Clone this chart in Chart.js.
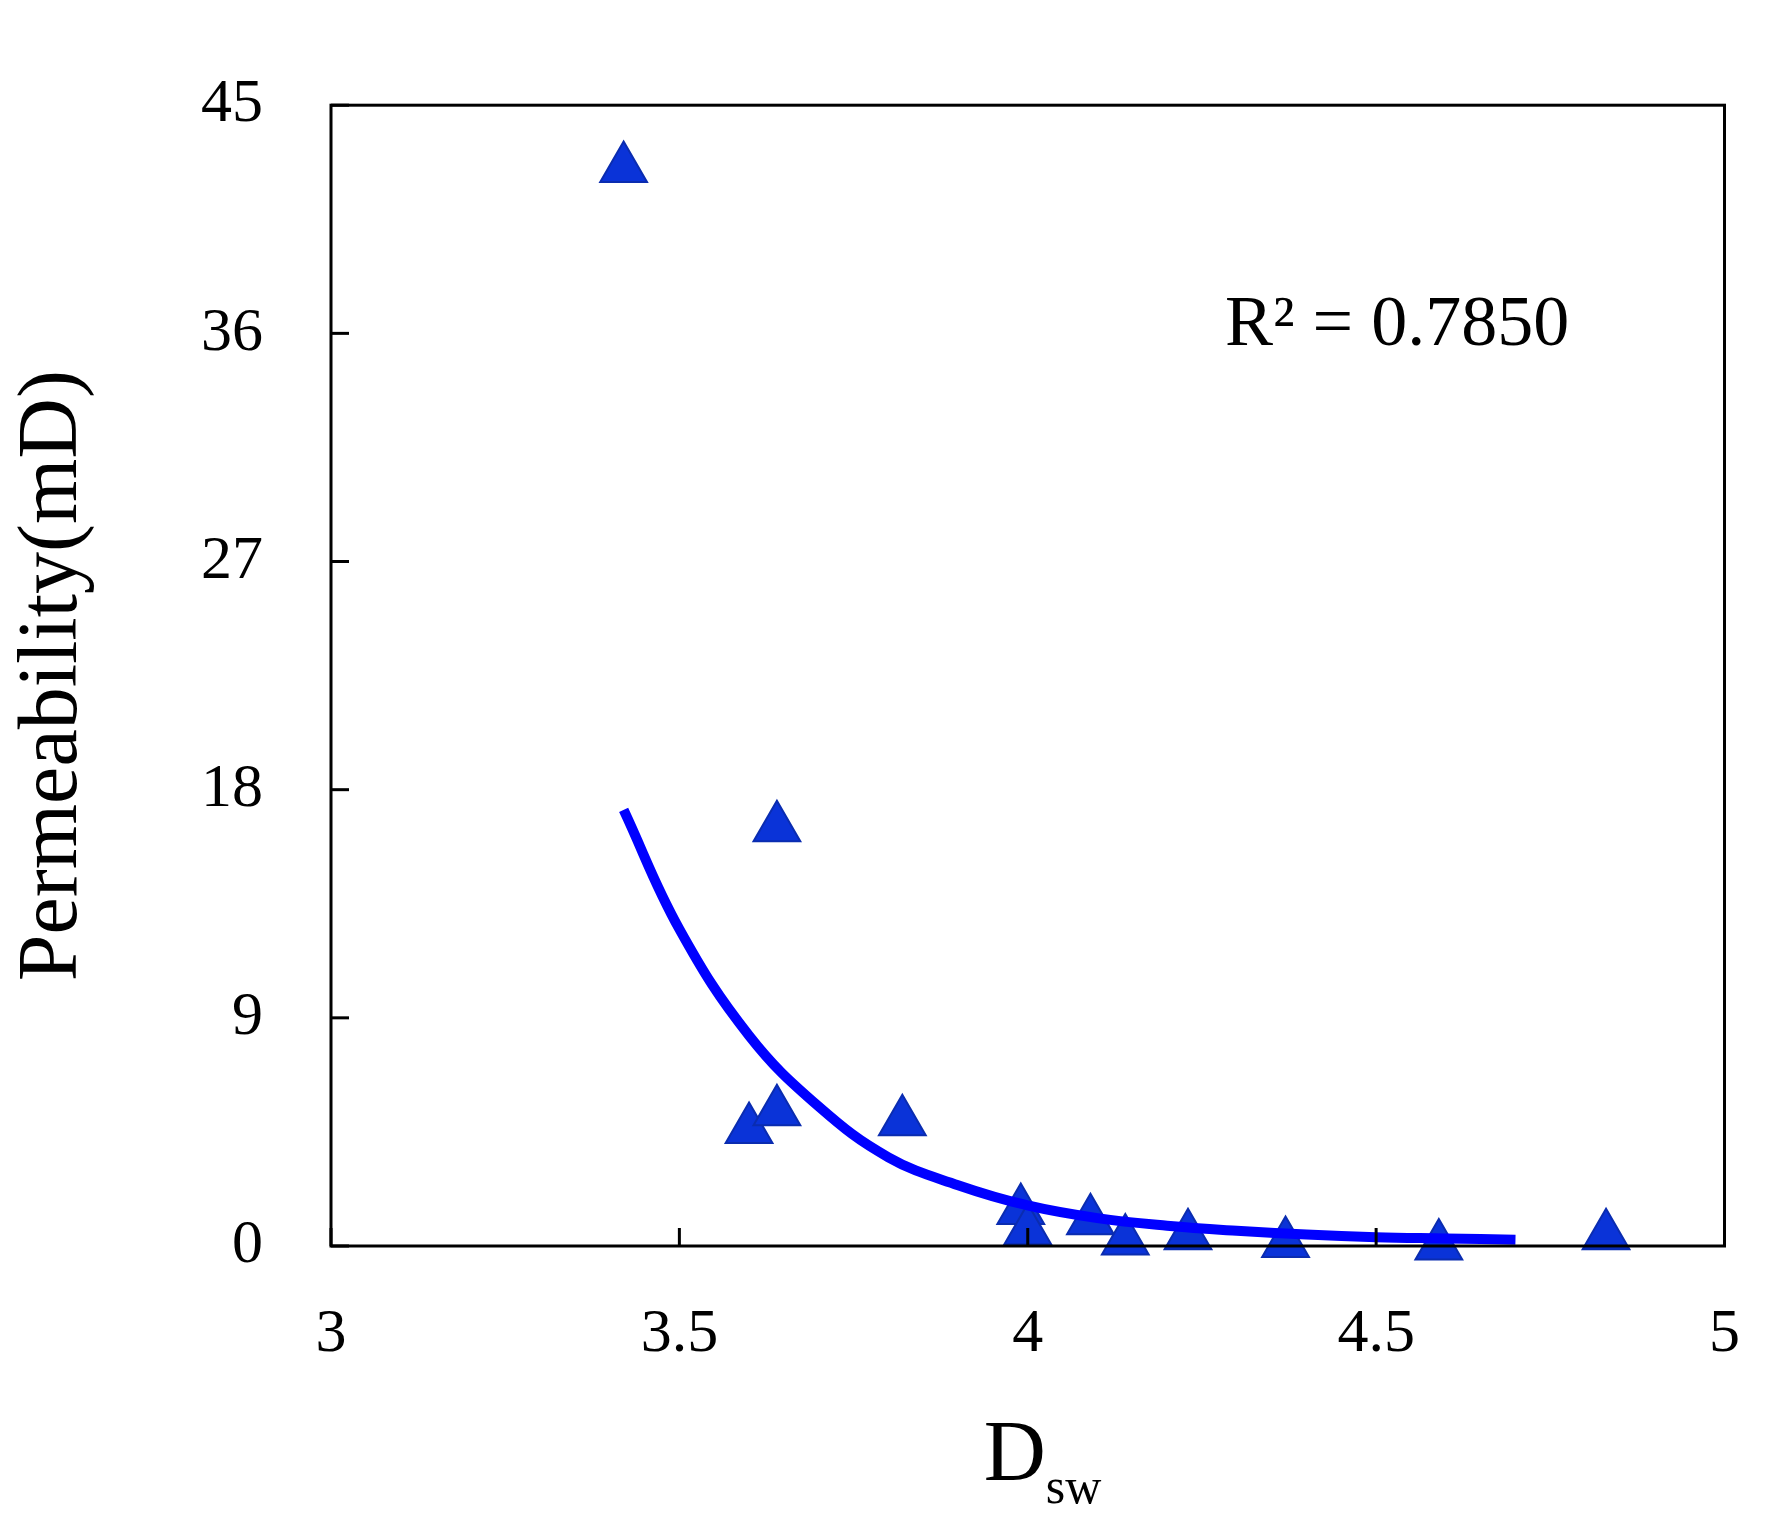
<!DOCTYPE html>
<html>
<head>
<meta charset="utf-8">
<script src="https://cdn.jsdelivr.net/npm/chart.js@4"></script>
<style>
  body { margin: 0; background: #fff; }
  #wrap { width: 1792px; height: 1529px; }
</style>
</head>
<body>
<div id="wrap"><canvas id="myChart"></canvas></div>
<script>
// Datos
const dsw = [3.42, 3.64, 3.60, 3.64, 3.82, 3.99, 4.00, 4.09, 4.14, 4.23, 4.37, 4.59, 4.83];
const perm = [42.5, 16.5, 4.6, 5.3, 4.9, 1.4, 0.6, 1.0, 0.2, 0.4, 0.1, 0.0, 0.4];
const fitX = [3.42, 3.5, 3.6, 3.7, 3.8, 3.9, 4.0, 4.1, 4.2, 4.3, 4.4, 4.5, 4.6, 4.7];
const fitY = [17.2, 12.5, 8.3, 5.5, 3.5, 2.4, 1.6, 1.1, 0.8, 0.6, 0.45, 0.35, 0.3, 0.25];
const xTicks = [3, 3.5, 4, 4.5, 5];
const yTicks = [0, 9, 18, 27, 36, 45];
const r2Label = 'R² = 0.7850';

const serif = '"Liberation Serif", "DejaVu Serif", serif';

// ticks hacia dentro, marco y textos
const extras = {
  id: 'extras',
  afterDraw(chart) {
    const c = chart.ctx, a = chart.chartArea;
    const x = chart.scales.x, y = chart.scales.y;
    c.save();
    c.strokeStyle = '#000';
    c.lineWidth = 3;
    c.strokeRect(a.left, a.top, a.right - a.left, a.bottom - a.top);
    xTicks.forEach(v => {
      const px = x.getPixelForValue(v);
      c.beginPath(); c.moveTo(px, a.bottom); c.lineTo(px, a.bottom - 18); c.stroke();
    });
    yTicks.forEach(v => {
      const py = y.getPixelForValue(v);
      c.beginPath(); c.moveTo(a.left, py); c.lineTo(a.left + 18, py); c.stroke();
    });
    c.fillStyle = '#000';
    c.font = '72px ' + serif;
    c.textAlign = 'center';
    c.textBaseline = 'middle';
    c.fillText(r2Label, x.getPixelForValue(4.53), y.getPixelForValue(36.3));
    // titulo eje x: D con subindice sw
    const cx = (a.left + a.right) / 2;
    c.font = '86px ' + serif;
    c.textAlign = 'right';
    c.textBaseline = 'alphabetic';
    c.fillText('D', cx + 18, 1480);
    c.font = '50px ' + serif;
    c.textAlign = 'left';
    c.fillText('sw', cx + 18, 1503);
    c.restore();
  }
};

const ctx = document.getElementById('myChart').getContext('2d');
const myChart = new Chart(ctx, {
  type: 'scatter',
  data: {
    datasets: [{
      label: 'fit',
      type: 'line',
      data: fitX.map((v, i) => ({ x: v, y: fitY[i] })),
      borderColor: '#0000ff',
      borderWidth: 10,
      pointRadius: 0,
      tension: 0.4,
      fill: false,
      clip: false
    }, {
      label: 'data',
      data: dsw.map((v, i) => ({ x: v, y: perm[i] })),
      pointStyle: 'triangle',
      pointRadius: 27,
      backgroundColor: '#0a33d8',
      borderColor: '#0a2cb0',
      borderWidth: 2,
      clip: false
    }]
  },
  options: {
    responsive: true,
    maintainAspectRatio: false,
    animation: false,
    layout: { padding: { top: 47, right: 7 } },
    plugins: { legend: { display: false }, tooltip: { enabled: false } },
    scales: {
      x: {
        type: 'linear', min: 3, max: 5,
        afterBuildTicks: s => { s.ticks = xTicks.map(v => ({ value: v })); },
        afterFit: s => { s.height = 283; },
        grid: { display: false, drawTicks: false },
        border: { display: false },
        ticks: { color: '#000', font: { family: serif, size: 62 }, padding: 52, callback: v => String(v) }
      },
      y: {
        type: 'linear', min: 0, max: 45,
        afterBuildTicks: s => { s.ticks = yTicks.map(v => ({ value: v })); },
        afterFit: s => { s.width = 331; },
        grid: { display: false, drawTicks: false },
        border: { display: false },
        ticks: { color: '#000', font: { family: serif, size: 62 }, padding: 68 },
        title: { display: true, text: 'Permeability(mD)', color: '#000', font: { family: serif, size: 84 }, padding: { bottom: 0 } }
      }
    }
  },
  plugins: [extras]
});
</script>
</body>
</html>
